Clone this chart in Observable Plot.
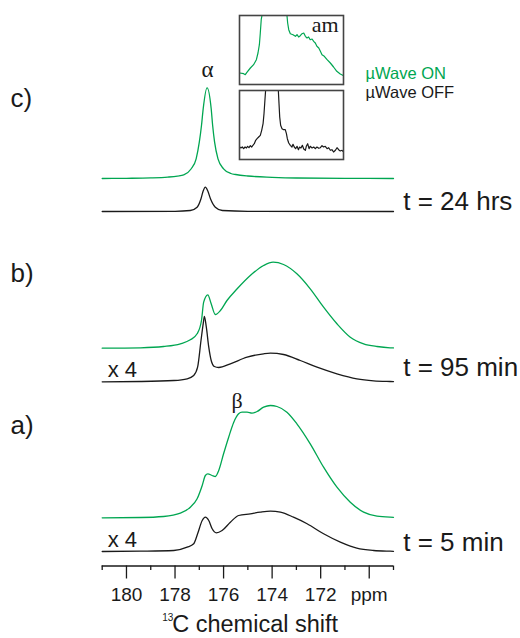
<!DOCTYPE html>
<html>
<head>
<meta charset="utf-8">
<script src="https://cdn.jsdelivr.net/npm/d3@7"></script>
<script src="https://cdn.jsdelivr.net/npm/@observablehq/plot@0.6"></script>
<style>
  html, body { margin: 0; padding: 0; background: #fff; }
  #wrap { position: relative; width: 520px; height: 638px; }
  #wrap > div, #wrap > svg { position: absolute; }
</style>
</head>
<body>
<div id="wrap"></div>
<script>
// ---------- data ----------
// c) t = 24 hrs
const ppmCOn = [181,180,179,178.3,177.9,177.64,177.34,177.13,177.0,176.91,176.84,176.68,176.51,176.45,176.37,176.23,176.0,175.7,175.5,175.0,174.0,173.0,171.0,169];
const intCOn = [0,0.2,0.6,1.4,2.4,3.6,9.5,19.7,36.3,53,69.7,90.7,69.7,53,36.3,19.7,9.7,5,4,2.5,1.2,0.5,0.2,0];
const ppmCOff = [181,178,177.37,177.09,176.93,176.84,176.75,176.65,176.54,176.34,176.05,175,169];
const intCOff = [0,0.2,1,4.3,12.7,20.5,24.3,20.5,12.7,4.3,1,0.2,0];
// b) t = 95 min
const ppmBOn = [181,179.42,178.47,177.78,177.37,177.09,176.91,176.82,176.65,176.51,176.34,176.13,175.86,175.44,174.90,174.35,173.96,173.53,172.98,172.43,171.88,171.33,170.78,170.23,169.68,169.14,169];
const intBOn = [0,0.4,1.7,4.4,8.4,14.4,27.7,46,53.4,44.4,33.7,37.7,47.7,59.4,72.7,82.7,86,83.7,74.4,59.4,41,24.4,11,4.4,1.7,0.4,0.3];
const ppmBOff = [181,179.42,178.05,177.50,177.23,177.07,176.93,176.84,176.79,176.71,176.61,176.51,176.38,176.20,175.72,175.03,174.35,174.07,173.53,172.84,172.15,171.33,170.51,169.82,169.14,169];
const intBOff = [0,0.3,1.3,3,6.3,14.6,41.3,58,65.3,54.6,34.6,21.3,15.3,14.3,18,24.6,28,28.6,27.3,21.3,14.6,8,3,1,0.3,0.2];
// a) t = 5 min
const ppmAOn = [181,179.42,178.47,177.78,177.37,177.09,176.88,176.75,176.65,176.47,176.34,176.20,176.0,175.79,175.58,175.38,175.24,175.03,174.83,174.62,174.35,174.07,173.80,173.39,172.98,172.43,171.88,171.33,170.78,170.23,169.68,169.14,169];
const intAOn = [0,0.3,1.3,4.6,10.6,19,32.3,42.3,44,42.3,41.3,47.3,64,80.6,95.6,104,105.6,105.6,104.6,106.3,110.6,112.3,111.3,105.6,94,74,50.6,30.6,15.6,5.6,1.6,0.6,0.5];
const ppmAOff = [181,179.42,178.05,177.50,177.23,177.07,176.88,176.75,176.61,176.47,176.30,176.06,175.72,175.38,174.90,174.49,174.07,173.66,173.12,172.56,171.88,171.19,170.51,169.82,169.14,169];
const intAOff = [0,0.3,1,4.3,7.7,17.7,31,34.3,31,22.7,18.7,21,29.3,36,37.7,39.3,40.3,39.3,34.3,27.7,17.7,9.3,3.3,1,0.3,0.2];
// insets (c, expanded vertical scale)
const ppmInsetOn = [178.19,178.02,177.95,177.88,177.73,177.59,177.47,177.40,177.34,177.30,177.26,177.23,177.1,176.95,176.69,176.4,176.25,176.145,176.116,176.07,176.0,175.885,175.78,175.71,175.64,175.57,175.495,175.42,175.35,175.28,175.21,175.14,175.06,174.99,174.92,174.85,174.77,174.70,174.63,174.53,174.41,174.27,174.13,173.99,173.84,173.69];
const intInsetOn = [11.5,10.8,9.8,12.2,16.5,19.8,24.8,31.5,39.8,51.5,64.8,68.8,110,160,220,150,100,68.8,61.5,54.8,50.8,49.8,48.2,49.8,47.5,48.8,50.8,51.5,48.2,46.5,47.5,44.8,45.5,43.2,41.5,38.2,36.5,33.2,29.8,28.2,24.8,21.5,17.5,13.2,10.5,8.8];
const ppmInsetOff = [178.19,178.14,178.08,178.02,177.96,177.90,177.85,177.79,177.73,177.67,177.62,177.56,177.50,177.44,177.37,177.30,177.24,177.18,177.14,177.10,177.07,177.0,176.8,176.6,176.52,176.49,176.46,176.42,176.36,176.29,176.22,176.17,176.13,176.07,176.0,175.93,175.885,175.83,175.77,175.71,175.65,175.60,175.54,175.48,175.42,175.35,175.31,175.25,175.19,175.14,175.06,174.99,174.92,174.85,174.77,174.70,174.63,174.56,174.49,174.41,174.34,174.27,174.20,174.13,174.05,173.98,173.91,173.84,173.76,173.69];
const intInsetOff = [12.5,11.5,12.5,10.8,12.5,11.5,13.2,11.8,13.8,12.5,14.2,15.8,19.2,20.8,22.5,24.2,29.2,35.8,45.8,59.2,69.2,150,200,150,69.2,55.8,42.5,34.2,30.8,29.8,29.8,25.8,20.8,16.5,14.2,12.5,15.2,12.5,10.8,13.2,9.8,12.5,11.5,14.2,10.5,9.2,13.2,15.8,10.8,13.2,11.5,12.5,10.8,12.5,11.2,11.8,13.8,12.5,13.2,10.8,11.8,9.2,9.8,7.5,9.2,11.8,9.8,8.5,9.2,7.2];
// axis ticks and labels
const majorTicks = [180,178,176,174,172,170];
const minorTicks = [181,179,177,175,173,171,169];
const panelLabels = ["a)","b)","c)"];
const timeLabels = ["t = 5 min","t = 95 min","t = 24 hrs"];
const legendLabels = ["µWave ON","µWave OFF"];

// ---------- layout ----------
const GREEN = "#00a651";
const INK = "#1a1a1a";
const SANS = "'Liberation Sans', Arial, Helvetica, sans-serif";
const SERIF = "'Liberation Serif', 'Times New Roman', serif";
const zip = (p, v) => p.map((x, i) => ({ppm: x, v: v[i]}));

// vertical offsets of each trace (y unit = 1 px above the axis line)
const traces = [
  {d: zip(ppmCOn, intCOn), off: 387.5, c: GREEN},
  {d: zip(ppmCOff, intCOff), off: 354.5, c: INK},
  {d: zip(ppmBOn, intBOn), off: 217.8, c: GREEN},
  {d: zip(ppmBOff, intBOff), off: 184.2, c: INK},
  {d: zip(ppmAOn, intAOn), off: 48.2, c: GREEN},
  {d: zip(ppmAOff, intAOff), off: 14.5, c: INK}
];

const main = Plot.plot({
  width: 520, height: 638,
  marginLeft: 101.7, marginRight: 127, marginTop: 0, marginBottom: 72.5,
  x: {domain: [181, 169], label: null},
  y: {domain: [0, 565.5], axis: null},
  style: {fontFamily: SANS, fontSize: "19px", color: INK, background: "#fff", overflow: "visible"},
  marks: [
    ...traces.map(t => Plot.line(t.d, {x: "ppm", y: d => t.off + d.v, curve: "monotone-x", stroke: t.c, strokeWidth: 1.3})),
    Plot.ruleY([0], {stroke: INK, strokeWidth: 1.3}),
    Plot.axisX({ticks: majorTicks, tickSize: 13, tickPadding: 8, tickFormat: d => d === 170 ? "ppm" : String(d), fontSize: 19, label: null, strokeWidth: 1.3, fill: INK}),
    Plot.axisX({ticks: minorTicks, tickSize: 4.5, tickFormat: () => "", label: null, strokeWidth: 1.3}),
    // axis title
    Plot.text(["13"], {frameAnchor: "left", y: [-55], dx: 60, textAnchor: "start", lineAnchor: "bottom", fontSize: 10, fill: INK}),
    Plot.text(["C chemical shift"], {frameAnchor: "left", y: [-65.5], dx: 70, textAnchor: "start", lineAnchor: "bottom", fontSize: 23.5, fill: INK}),
    // panel labels
    Plot.text(panelLabels, {frameAnchor: "left", y: [132.2, 284.5, 459], dx: -91.7, textAnchor: "start", lineAnchor: "bottom", fontSize: 26, fill: INK}),
    // time labels
    Plot.text(timeLabels, {frameAnchor: "right", y: [15.5, 190.5, 356.2], dx: 9.7, textAnchor: "start", lineAnchor: "bottom", fontSize: 26, fill: INK}),
    // scale factor labels
    Plot.text(["x 4", "x 4"], {frameAnchor: "left", y: [18.8, 188.8], dx: 5.5, textAnchor: "start", lineAnchor: "bottom", fontSize: 22, fill: INK}),
    // peak labels
    Plot.text(["α"], {x: [176.66], y: [488.8], lineAnchor: "bottom", fontSize: 23, fontFamily: SERIF, fill: INK}),
    Plot.text(["β"], {x: [175.44], y: [158.5], lineAnchor: "bottom", fontSize: 22, fontFamily: SERIF, fill: INK}),
    // legend
    Plot.text([legendLabels[0]], {frameAnchor: "right", y: [487.2], dx: -28, textAnchor: "start", lineAnchor: "bottom", fontSize: 16.5, fill: GREEN}),
    Plot.text([legendLabels[1]], {frameAnchor: "right", y: [468.2], dx: -28, textAnchor: "start", lineAnchor: "bottom", fontSize: 16.5, fill: INK})
  ]
});
main.style.left = "0px"; main.style.top = "0px";

function inset(ppm, vals, color, label) {
  const marks = [
    Plot.line(zip(ppm, vals), {x: "ppm", y: "v", stroke: color, strokeWidth: 1.2, clip: true}),
    Plot.frame({stroke: "#444", strokeWidth: 1.6})
  ];
  if (label) marks.push(Plot.text([label], {frameAnchor: "top-right", dx: -4.8, dy: 16.5, lineAnchor: "bottom", fontSize: 22, fontFamily: SERIF, fill: INK}));
  return Plot.plot({
    width: 104, height: 69, margin: 0,
    x: {domain: [178.2, 173.7], axis: null},
    y: {domain: [0, 69], axis: null},
    style: {background: "transparent", overflow: "visible"},
    marks
  });
}
const insTop = inset(ppmInsetOn, intInsetOn, GREEN, "am");
insTop.style.left = "238.5px"; insTop.style.top = "14.5px";
const insBot = inset(ppmInsetOff, intInsetOff, INK, null);
insBot.style.left = "238.5px"; insBot.style.top = "89.5px";

const wrap = document.getElementById("wrap");
wrap.appendChild(main);
wrap.appendChild(insTop);
wrap.appendChild(insBot);
</script>
</body>
</html>
